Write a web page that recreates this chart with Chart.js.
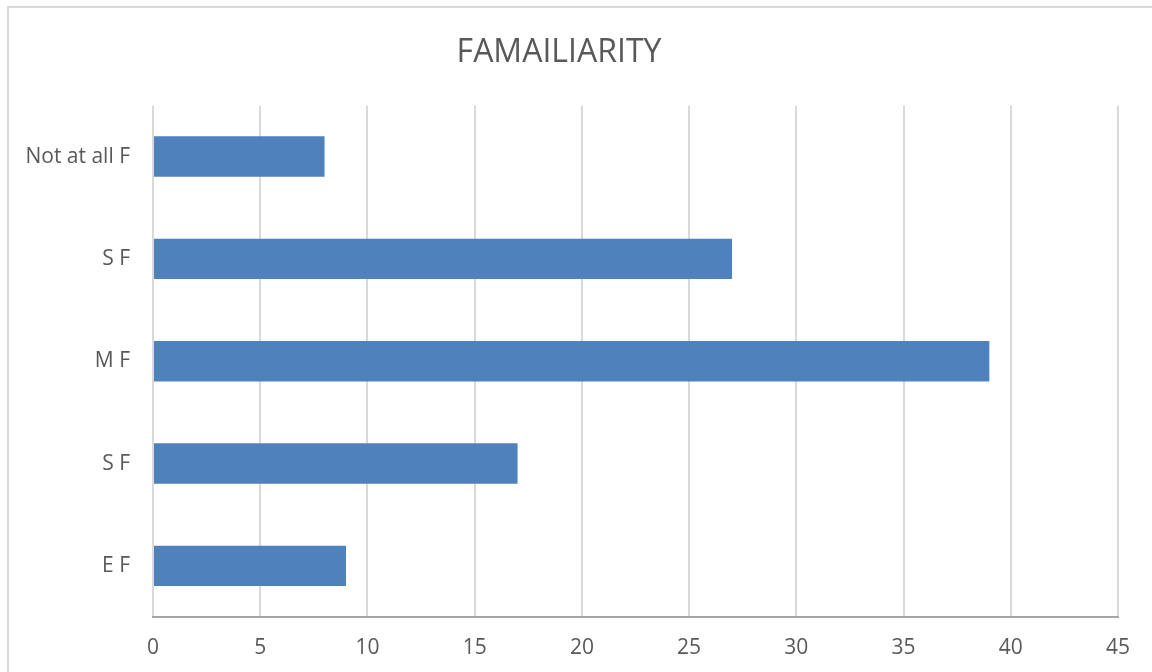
<!DOCTYPE html>
<html>
<head>
    <title>Famailiarity</title>
    <script src="https://cdn.jsdelivr.net/npm/chart.js"></script>
    <style>
        body { margin: 0; background: #ffffff; }
        .frame {
            position: absolute;
            left: 7px;
            top: 6px;
            width: 1200px;
            height: 720px;
            border: 2px solid #d9d9d9;
        }
        .chart-container {
            position: absolute;
            left: 0;
            top: 0;
            width: 1152px;
            height: 672px;
        }
    </style>
</head>
<body>
    <div class="frame"></div>
    <div class="chart-container">
        <canvas id="famChart"></canvas>
    </div>

    <script>
var categories = ['Not at all F', 'S F', 'M F', 'S F', 'E F'];
var counts = [8, 27, 39, 17, 9];
var axisMin = 0;
var axisMax = 45;
var axisStep = 5;

document.addEventListener('DOMContentLoaded', function() {
    var textColor = '#595959';
    var fontFamily = '"Open Sans", "Noto Sans", sans-serif';

    var ctx = document.getElementById('famChart');
    new Chart(ctx, {
        type: 'bar',
        data: {
            labels: categories,
            datasets: [{
                label: 'Series1',
                data: counts,
                backgroundColor: '#4f81bd',
                borderWidth: 0,
                categoryPercentage: 1,
                barPercentage: 0.395
            }]
        },
        options: {
            indexAxis: 'y',
            responsive: true,
            maintainAspectRatio: false,
            animation: false,
            layout: {
                padding: { left: 0, right: 34, top: 0, bottom: 0 }
            },
            plugins: {
                legend: { display: false },
                tooltip: { enabled: false },
                title: {
                    display: true,
                    text: 'FAMAILIARITY',
                    color: textColor,
                    font: { family: fontFamily, size: 32, weight: 'normal' },
                    padding: { top: 34, bottom: 33 }
                }
            },
            scales: {
                x: {
                    min: axisMin,
                    max: axisMax,
                    afterFit: function(scale) { scale.height = 55; },
                    ticks: {
                        stepSize: axisStep,
                        color: textColor,
                        font: { family: fontFamily, size: 21 },
                        padding: 18
                    },
                    grid: {
                        color: '#d9d9d9',
                        lineWidth: 2,
                        drawTicks: false
                    },
                    border: {
                        display: true,
                        color: '#a6a6a6',
                        width: 2
                    }
                },
                y: {
                    afterFit: function(scale) { scale.width = 153; },
                    ticks: {
                        color: textColor,
                        font: { family: fontFamily, size: 21 },
                        padding: 23
                    },
                    grid: { display: false, drawTicks: false },
                    border: { display: false }
                }
            }
        }
    });
});
    </script>
</body>
</html>
